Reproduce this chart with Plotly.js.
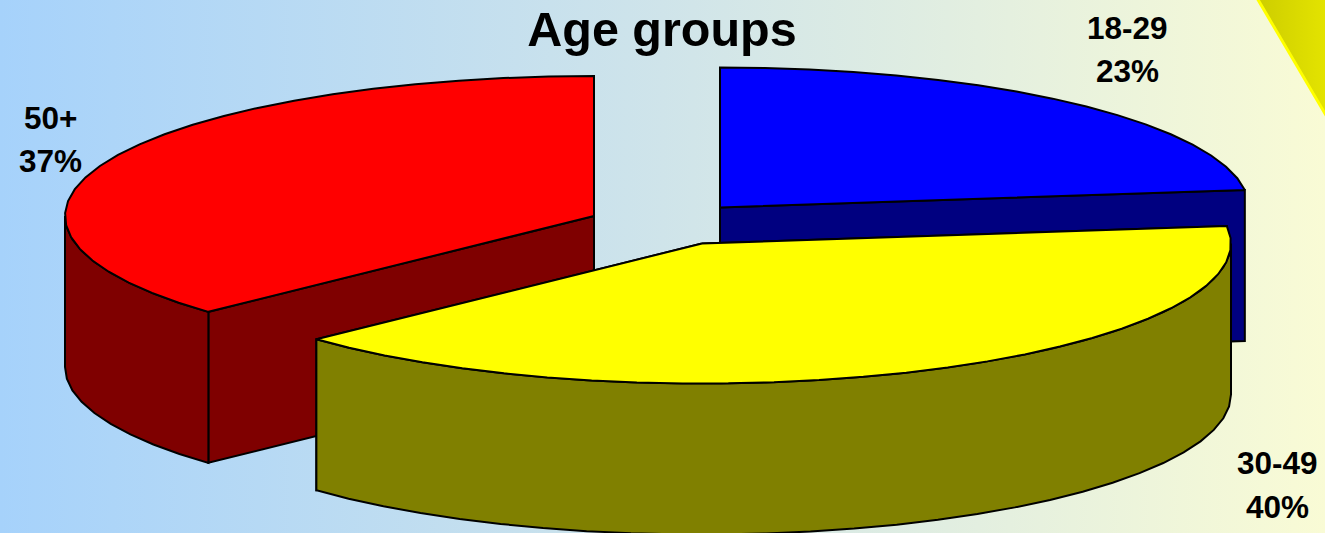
<!DOCTYPE html>
<html>
<head>
<meta charset="utf-8">
<script src="https://cdn.plot.ly/plotly-3.0.1.min.js"></script>
<style>
html,body{margin:0;padding:0;width:1325px;height:533px;overflow:hidden;
background:linear-gradient(90deg,#a6d2fb 0%,#cfe4ea 50%,#f9fbd5 100%);}
#chart{width:1325px;height:533px;}
</style>
</head>
<body>
<div id="chart"></div>
<script>
// Data
const categories = ['18-29', '30-49', '50+'];
const shares = [23, 40, 37];
const topColors = ['#0000ff', '#ffff00', '#ff0000'];
const wallColors = ['#000080', '#808000', '#7f0000'];
const chartTitle = 'Age groups';

// Pie projection
const rx = 529, ry = 140, depth = 151, step = 5;
const centers = [[720, 207.5], [702, 243.5], [594, 216]];
const startAngles = [0, 82.8, 226.8];
const labelPos = [[1127, 28, 71], [1277, 463, 507], [50, 118, 161]];
const drawOrder = [2, 0, 1];

function pt(i, deg, dy) {
  const a = deg * Math.PI / 180;
  return [centers[i][0] + rx * Math.sin(a), centers[i][1] - ry * Math.cos(a) + (dy || 0)];
}
function arc(i, a0, a1, dy) {
  const out = [];
  const n = Math.max(1, Math.ceil((a1 - a0) / step));
  for (let k = 0; k <= n; k++) out.push(pt(i, a0 + (a1 - a0) * k / n, dy));
  return out;
}
function poly(points, fill) {
  const x = points.map(p => p[0]), y = points.map(p => p[1]);
  x.push(x[0]); y.push(y[0]);
  return {type: 'scatter', mode: 'lines', x, y, fill: 'toself', fillcolor: fill,
    line: {color: '#000000', width: 2, shape: 'linear'}, hoverinfo: 'skip', showlegend: false};
}

const traces = [];
drawOrder.forEach(i => {
  const a0 = startAngles[i], a1 = a0 + shares[i] * 3.6;
  const c = centers[i];
  const wall = wallColors[i];
  // radial cut faces
  [a0, a1].forEach(a => {
    const p = pt(i, a, 0), q = pt(i, a, depth);
    traces.push(poly([c, p, q, [c[0], c[1] + depth]], wall));
  });
  // outer curved wall: only the part facing the viewer
  const w0 = Math.max(a0, 90), w1 = Math.min(a1, 270);
  if (w1 > w0) {
    const upper = arc(i, w0, w1, 0), lower = arc(i, w0, w1, depth).reverse();
    traces.push(poly(upper.concat(lower), wall));
  }
  // top surface
  traces.push(poly([c].concat(arc(i, a0, a1, 0)), topColors[i]));
});

// Corner decoration
traces.push({type: 'scatter', mode: 'lines', x: [1257, 1327, 1327, 1257], y: [-2, 117, -2, -2],
  fill: 'toself',
  fillgradient: {type: 'horizontal', colorscale: [[0, '#cdcd00'], [1, '#e4e400']]},
  line: {color: '#ffff00', width: 3}, hoverinfo: 'skip', showlegend: false, cliponaxis: true});

const labelFont = {family: 'Liberation Sans, Arial, sans-serif', size: 31.5, color: '#000000'};
const annotations = [];
categories.forEach((name, i) => {
  const [x, y1, y2] = labelPos[i];
  [[name, y1], [shares[i] + '%', y2]].forEach(([text, y]) => {
    annotations.push({x, y, xref: 'x', yref: 'y', text: '<b>' + text + '</b>', showarrow: false,
      xanchor: 'center', yanchor: 'middle', font: labelFont});
  });
});

const layout = {
  width: 1325, height: 533,
  margin: {l: 0, r: 0, t: 0, b: 0},
  paper_bgcolor: 'rgba(0,0,0,0)', plot_bgcolor: 'rgba(0,0,0,0)',
  showlegend: false,
  title: {text: '<b>' + chartTitle + '</b>', x: 0.4996, xref: 'paper', xanchor: 'center',
    y: 0.945, yref: 'paper', yanchor: 'middle',
    font: {family: 'Liberation Sans, Arial, sans-serif', size: 48.5, color: '#000000'}},
  xaxis: {range: [0, 1325], visible: false, fixedrange: true},
  yaxis: {range: [533, 0], visible: false, fixedrange: true},
  annotations
};
Plotly.newPlot('chart', traces, layout, {displayModeBar: false, staticPlot: true});
</script>
</body>
</html>
